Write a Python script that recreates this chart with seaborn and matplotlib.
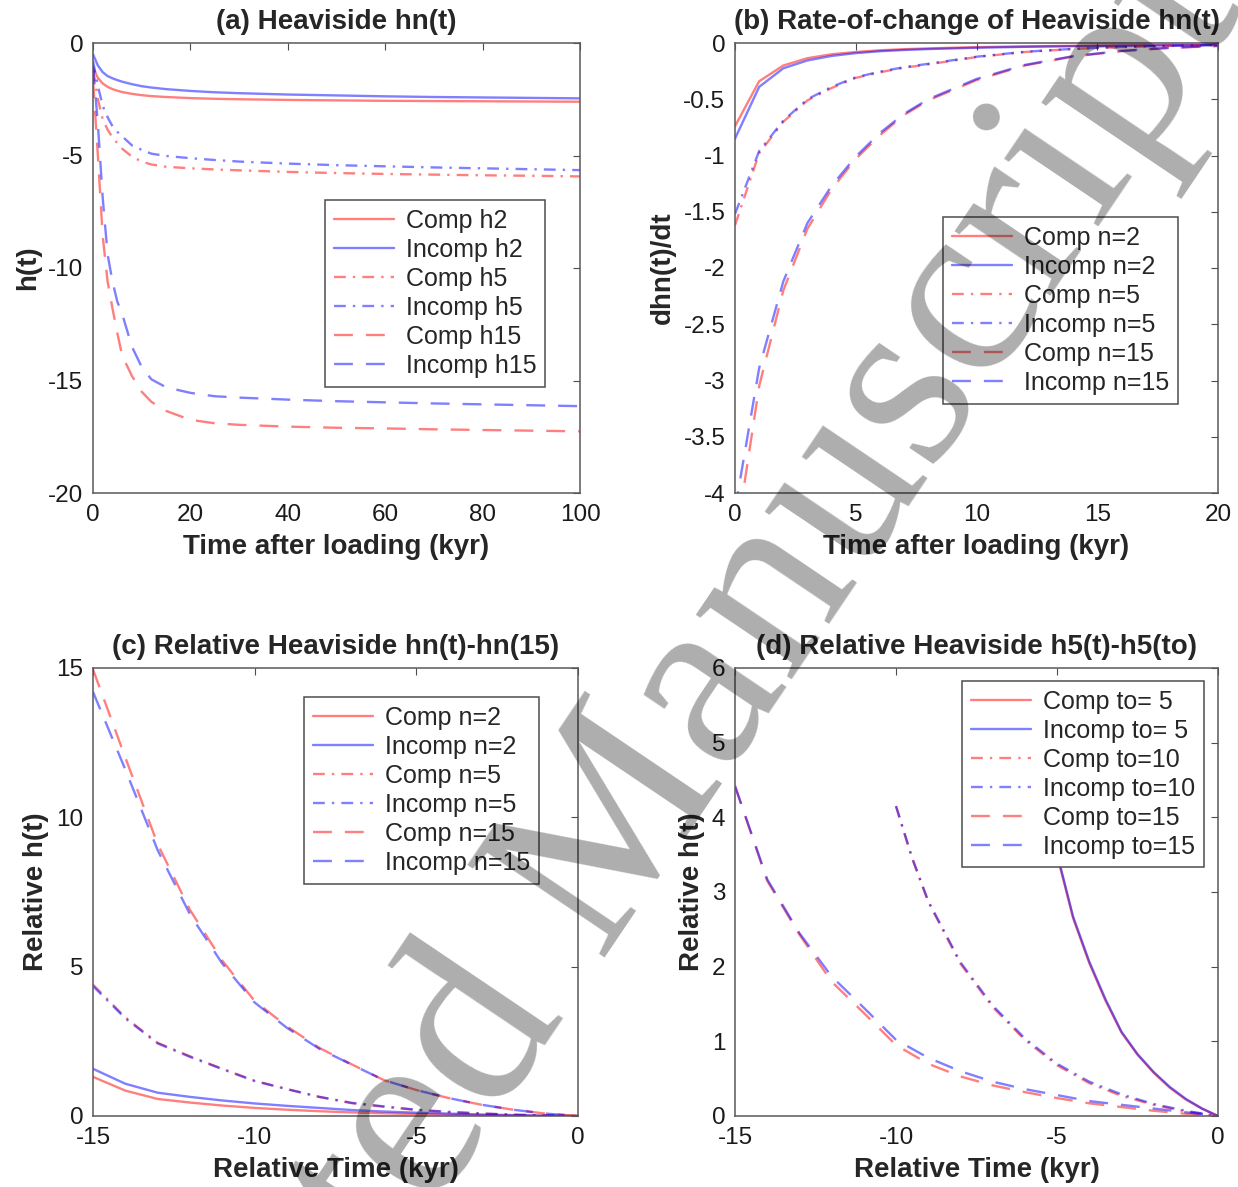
import numpy as np
import pandas as pd
import matplotlib
matplotlib.use("Agg")
import matplotlib.pyplot as plt
import seaborn as sns

# ---------------- data ----------------
# (a) Heaviside hn(t)
t_a = [0, 1, 2, 3, 4, 5, 6, 8, 10, 12, 15, 20, 25, 30, 40, 50, 60, 70, 80, 90, 100]
comp_h2 = [-1.1, -1.55, -1.8, -1.95, -2.05, -2.12, -2.18, -2.26, -2.32, -2.36, -2.4, -2.45, -2.48, -2.5, -2.53, -2.55, -2.57, -2.58, -2.59, -2.6, -2.61]
incomp_h2 = [-0.5, -1.0, -1.3, -1.47, -1.57, -1.65, -1.72, -1.83, -1.92, -1.98, -2.05, -2.13, -2.19, -2.23, -2.29, -2.33, -2.37, -2.4, -2.42, -2.44, -2.46]
comp_h5 = [-1.2, -2.5, -3.4, -3.85, -4.2, -4.45, -4.7, -5.05, -5.27, -5.4, -5.5, -5.57, -5.62, -5.66, -5.73, -5.78, -5.82, -5.85, -5.88, -5.9, -5.93]
incomp_h5 = [-0.8, -1.9, -2.8, -3.3, -3.7, -3.95, -4.15, -4.55, -4.75, -4.92, -5.02, -5.12, -5.2, -5.27, -5.36, -5.43, -5.48, -5.53, -5.57, -5.61, -5.65]
comp_h15 = [-1.6, -5.0, -8.6, -10.6, -11.8, -12.9, -13.9, -14.8, -15.5, -15.95, -16.35, -16.75, -16.9, -16.97, -17.05, -17.1, -17.13, -17.17, -17.2, -17.23, -17.26]
incomp_h15 = [-1.0, -3.6, -6.9, -9.4, -10.6, -11.5, -12.05, -13.5, -14.4, -14.95, -15.3, -15.55, -15.7, -15.76, -15.85, -15.92, -15.97, -16.02, -16.06, -16.1, -16.14]

# (b) rate of change dhn/dt
t_b = [0, 1, 2, 3, 4, 5, 6, 7, 8, 10, 12, 14, 16, 18, 20]
comp_d2 = [-0.74, -0.34, -0.2, -0.135, -0.1, -0.08, -0.065, -0.055, -0.048, -0.037, -0.03, -0.025, -0.021, -0.018, -0.016]
incomp_d2 = [-0.85, -0.39, -0.225, -0.155, -0.115, -0.09, -0.073, -0.062, -0.054, -0.042, -0.034, -0.028, -0.024, -0.021, -0.018]
comp_d5 = [-1.62, -0.98, -0.7, -0.51, -0.4, -0.31, -0.26, -0.22, -0.19, -0.125, -0.08, -0.053, -0.036, -0.026, -0.019]
incomp_d5 = [-1.52, -0.96, -0.69, -0.5, -0.39, -0.305, -0.255, -0.215, -0.185, -0.122, -0.078, -0.052, -0.035, -0.025, -0.018]
comp_d15 = [-4.47, -3.05, -2.2, -1.65, -1.3, -1.03, -0.82, -0.64, -0.51, -0.33, -0.2, -0.12, -0.072, -0.044, -0.027]
incomp_d15 = [-4.15, -2.89, -2.12, -1.6, -1.27, -1.01, -0.8, -0.63, -0.5, -0.32, -0.195, -0.117, -0.07, -0.042, -0.025]

# (c) relative hn(t)-hn(15)
t_c = [-15, -14, -13, -12, -11, -10, -9, -8, -7, -6, -5, -4, -3, -2, -1, 0]
rc_comp2 = [1.31, 0.85, 0.57, 0.45, 0.35, 0.27, 0.21, 0.16, 0.12, 0.09, 0.065, 0.045, 0.03, 0.015, 0.005, 0.0]
rc_incomp2 = [1.58, 1.08, 0.78, 0.64, 0.52, 0.42, 0.34, 0.27, 0.2, 0.15, 0.11, 0.08, 0.05, 0.03, 0.01, 0.0]
rc_comp5 = [4.4, 3.3, 2.45, 2.0, 1.58, 1.18, 0.9, 0.64, 0.43, 0.31, 0.2, 0.13, 0.08, 0.04, 0.015, 0.0]
rc_incomp5 = [4.35, 3.27, 2.43, 1.98, 1.57, 1.17, 0.9, 0.64, 0.44, 0.32, 0.21, 0.14, 0.085, 0.045, 0.017, 0.0]
rc_comp15 = [14.95, 12.0, 9.1, 6.9, 5.2, 3.85, 3.0, 2.28, 1.73, 1.2, 0.87, 0.6, 0.38, 0.21, 0.08, 0.0]
rc_incomp15 = [14.2, 11.6, 8.9, 6.75, 5.1, 3.8, 2.95, 2.25, 1.72, 1.2, 0.87, 0.6, 0.38, 0.21, 0.08, 0.0]

# (d) relative h5(t)-h5(to)
t_d5 = [-5, -4.5, -4, -3.5, -3, -2.5, -2, -1.5, -1, -0.5, 0]
rd_comp5 = [3.5, 2.65, 2.05, 1.55, 1.12, 0.82, 0.58, 0.38, 0.22, 0.1, 0.0]
rd_incomp5 = [3.52, 2.67, 2.07, 1.57, 1.13, 0.83, 0.59, 0.39, 0.23, 0.1, 0.0]
t_d10 = [-10, -9.5, -9, -8, -7, -6, -5, -4, -3, -2, -1, 0]
rd_comp10 = [4.15, 3.45, 2.87, 2.04, 1.46, 1.02, 0.68, 0.44, 0.27, 0.15, 0.06, 0.0]
rd_incomp10 = [4.15, 3.46, 2.88, 2.06, 1.48, 1.04, 0.7, 0.46, 0.29, 0.16, 0.07, 0.0]
t_d15 = [-15, -14, -13, -12, -11, -10, -9, -8, -7, -6, -5, -4, -3, -2, -1, 0]
rd_comp15 = [4.42, 3.15, 2.43, 1.8, 1.38, 0.95, 0.7, 0.53, 0.41, 0.32, 0.24, 0.17, 0.12, 0.07, 0.03, 0.0]
rd_incomp15 = [4.42, 3.17, 2.45, 1.87, 1.45, 1.02, 0.78, 0.6, 0.46, 0.36, 0.28, 0.2, 0.15, 0.1, 0.05, 0.0]

# ---------------- style ----------------
sns.set_theme(style="white")
plt.rcParams['font.family'] = ['Liberation Sans', 'DejaVu Sans']
plt.rcParams['axes.unicode_minus'] = False

RED = (1.0, 0.0, 0.0)
BLUE = (0.0, 0.0, 1.0)
ALPHA = 0.5
LW = 1.7
STY = {'solid': '-', 'dashdot': (0, (5, 3, 1, 3)), 'dashed': (0, (8, 5.5))}

TICK_FS = 17.5
LAB_FS = 20
LEG_FS = 18

fig = plt.figure(figsize=(12.38, 11.87), dpi=100)
W, H = 1238.0, 1187.0


def add_ax(x0, x1, y0, y1):
    return fig.add_axes([x0 / W, 1 - y1 / H, (x1 - x0) / W, (y1 - y0) / H])


def draw(ax, x, y, color, style, label):
    sns.lineplot(x=x, y=y, ax=ax, color=color, alpha=ALPHA, linewidth=LW,
                 linestyle=STY[style], label=label, sort=False, estimator=None)


def finish(ax, title, xlabel, ylabel, xlim, ylim, xticks, yticks, legend_xy):
    ax.set_xlim(*xlim)
    ax.set_ylim(*ylim)
    ax.set_xticks(xticks)
    ax.set_yticks(yticks)
    ax.set_xticklabels([('%g' % v) for v in xticks])
    ax.set_yticklabels([('%g' % v) for v in yticks])
    ax.set_title(title, fontsize=LAB_FS, fontweight='bold', pad=10)
    ax.set_xlabel(xlabel, fontsize=LAB_FS, fontweight='bold', labelpad=6)
    ax.set_ylabel(ylabel, fontsize=LAB_FS, fontweight='bold', labelpad=5)
    ax.tick_params(direction='in', top=True, right=True, length=5, width=0.8,
                   color='0.3', labelsize=TICK_FS, labelcolor='0.1')
    ax.tick_params(axis='x', pad=8)
    ax.tick_params(axis='y', pad=7)
    for s in ax.spines.values():
        s.set_color('0.35')
        s.set_linewidth(1.1)
    leg = ax.legend(loc='upper left', bbox_to_anchor=legend_xy, borderaxespad=0,
                    fontsize=LEG_FS, frameon=True, fancybox=False, framealpha=1,
                    edgecolor='0.3', handlelength=2.4, handletextpad=0.5,
                    labelspacing=0.2, borderpad=0.35)
    leg.get_frame().set_linewidth(1.1)


# (a)
axa = add_ax(93, 580, 43, 493)
draw(axa, t_a, comp_h2, RED, 'solid', 'Comp h2')
draw(axa, t_a, incomp_h2, BLUE, 'solid', 'Incomp h2')
draw(axa, t_a, comp_h5, RED, 'dashdot', 'Comp h5')
draw(axa, t_a, incomp_h5, BLUE, 'dashdot', 'Incomp h5')
draw(axa, t_a, comp_h15, RED, 'dashed', 'Comp h15')
draw(axa, t_a, incomp_h15, BLUE, 'dashed', 'Incomp h15')
finish(axa, '(a) Heaviside hn(t)', 'Time after loading (kyr)', 'h(t)',
       (0, 100), (-20, 0), [0, 20, 40, 60, 80, 100], [-20, -15, -10, -5, 0], (0.476, 0.651))

# (b)
axb = add_ax(735, 1218, 43, 493)
draw(axb, t_b, comp_d2, RED, 'solid', 'Comp n=2')
draw(axb, t_b, incomp_d2, BLUE, 'solid', 'Incomp n=2')
draw(axb, t_b, comp_d5, RED, 'dashdot', 'Comp n=5')
draw(axb, t_b, incomp_d5, BLUE, 'dashdot', 'Incomp n=5')
draw(axb, t_b, comp_d15, RED, 'dashed', 'Comp n=15')
draw(axb, t_b, incomp_d15, BLUE, 'dashed', 'Incomp n=15')
finish(axb, '(b) Rate-of-change of Heaviside hn(t)', 'Time after loading (kyr)', 'dhn(t)/dt',
       (0, 20), (-4, 0), [0, 5, 10, 15, 20], [-4, -3.5, -3, -2.5, -2, -1.5, -1, -0.5, 0], (0.431, 0.613))

# (c)
axc = add_ax(93, 578, 668, 1116)
draw(axc, t_c, rc_comp2, RED, 'solid', 'Comp n=2')
draw(axc, t_c, rc_incomp2, BLUE, 'solid', 'Incomp n=2')
draw(axc, t_c, rc_comp5, RED, 'dashdot', 'Comp n=5')
draw(axc, t_c, rc_incomp5, BLUE, 'dashdot', 'Incomp n=5')
draw(axc, t_c, rc_comp15, RED, 'dashed', 'Comp n=15')
draw(axc, t_c, rc_incomp15, BLUE, 'dashed', 'Incomp n=15')
finish(axc, '(c) Relative Heaviside hn(t)-hn(15)', 'Relative Time (kyr)', 'Relative h(t)',
       (-15, 0), (0, 15), [-15, -10, -5, 0], [0, 5, 10, 15], (0.435, 0.935))

# (d)
axd = add_ax(735, 1218, 668, 1116)
draw(axd, t_d5, rd_comp5, RED, 'solid', 'Comp to= 5')
draw(axd, t_d5, rd_incomp5, BLUE, 'solid', 'Incomp to= 5')
draw(axd, t_d10, rd_comp10, RED, 'dashdot', 'Comp to=10')
draw(axd, t_d10, rd_incomp10, BLUE, 'dashdot', 'Incomp to=10')
draw(axd, t_d15, rd_comp15, RED, 'dashed', 'Comp to=15')
draw(axd, t_d15, rd_incomp15, BLUE, 'dashed', 'Incomp to=15')
finish(axd, '(d) Relative Heaviside h5(t)-h5(to)', 'Relative Time (kyr)', 'Relative h(t)',
       (-15, 0), (0, 6), [-15, -10, -5, 0], [0, 1, 2, 3, 4, 5, 6], (0.47, 0.971))

# watermark
fig.text(32 / W, 1 - 1807 / H, 'Accepted Manuscript', rotation=56, rotation_mode='anchor',
         ha='left', va='baseline', fontsize=182, family='Liberation Serif',
         color='black', alpha=0.32, zorder=100)

fig.savefig('out.png', dpi=100, facecolor='white')
